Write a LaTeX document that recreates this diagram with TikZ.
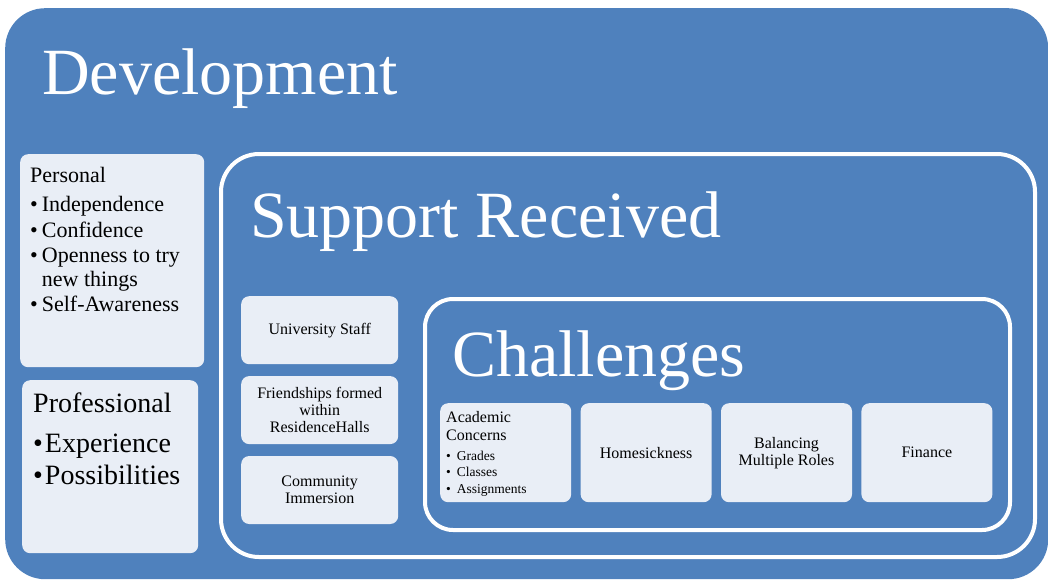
\documentclass[tikz,border=0pt]{standalone}
\usepackage{fontspec}
\setmainfont{Liberation Serif}
\usetikzlibrary{positioning}
\definecolor{devblue}{HTML}{4F81BD}
\definecolor{boxfill}{HTML}{E9EEF6}
\tikzset{
	panel/.style={fill=boxfill, rounded corners=8pt, inner sep=0pt, anchor=north west},
	frame/.style={draw=white, line width=4pt, rounded corners=#1, inner sep=0pt, anchor=north west},
	frame/.default=30pt,
	heading/.style={text=white, font=\fontsize{66}{70}\selectfont, anchor=base west, inner sep=0pt},
	listtext/.style={anchor=base west, inner sep=0pt, text=black},
	itemtext/.style={align=center, font=\fontsize{16}{17}\selectfont, text=black}
}

\begin{document}
\begin{tikzpicture}[x=1pt, y=-1pt]
	\useasboundingbox (0,0) rectangle (1048,581);
	% outer area and the two white frames
	\node[fill=devblue, rounded corners=40pt, inner sep=0pt, anchor=north west,
		minimum width=1043pt, minimum height=571pt] (development) at (5,8) {};
	\node[frame=38pt, minimum width=814pt, minimum height=403pt] (support) at (219,152) {};
	\node[frame=28pt, minimum width=585pt, minimum height=231pt] (challenges) at (423,297) {};
	\node[heading] (devtitle) at (42,94) {Development};
	\node[heading] (supporttitle) at (250,237) {Support Received};
	\node[heading] (challengetitle) at (452,376) {Challenges};

	% development: personal and professional
	\node[panel, minimum width=184pt, minimum height=213pt] (personal) at (20,154) {};
	\node[panel, minimum width=176pt, minimum height=173pt] (professional) at (22,380) {};
	\node[listtext, font=\fontsize{22}{25.5}\selectfont] (personaltxt) at (30,182)
		{\begin{tabular}[t]{@{}l@{\hspace{4pt}}l@{}}
			\multicolumn{2}{@{}l@{}}{Personal}\\[4pt]
			\textbullet & Independence\\
			\textbullet & Confidence\\
			\textbullet & Openness to try\\[-2pt]
			            & new things\\
			\textbullet & Self-Awareness
		\end{tabular}};
	\node[listtext, font=\fontsize{28}{32}\selectfont] (professionaltxt) at (33,412)
		{\begin{tabular}[t]{@{}l@{\hspace{2pt}}l@{}}
			\multicolumn{2}{@{}l@{}}{Professional}\\[8pt]
			\textbullet & Experience\\
			\textbullet & Possibilities
		\end{tabular}};

	% support received
	\node[panel, minimum width=157pt, minimum height=68pt] (staff) at (241,296) {};
	\node[panel, minimum width=157pt, minimum height=68pt, below=11.5pt of staff] (friends) {};
	\node[panel, minimum width=157pt, minimum height=68pt, below=11.5pt of friends] (community) {};
	\node[itemtext] (stafftxt) at (staff.center) {University Staff};
	\node[itemtext] (friendstxt) at (friends.center) {Friendships formed\\within\\ResidenceHalls};
	\node[itemtext] (communitytxt) at (community.center) {Community\\Immersion};

	% challenges
	\node[panel, minimum width=131pt, minimum height=99pt] (academic) at (440,403) {};
	\node[listtext, font=\fontsize{16}{18}\selectfont] (academictxt) at (446,422)
		{\begin{tabular}[t]{@{}l@{}}
			Academic\\
			Concerns\\[2pt]
			{\fontsize{13.5}{16.5}\selectfont\begin{tabular}[t]{@{}l@{\hspace{6pt}}l@{}}
				\textbullet & Grades\\
				\textbullet & Classes\\
				\textbullet & Assignments
			\end{tabular}}
		\end{tabular}};
	\foreach \prev/\name/\txt in {academic/home/Homesickness, home/roles/{Balancing\\Multiple Roles}, roles/finance/Finance}{
		\node[panel, minimum width=131pt, minimum height=99pt, right=9pt of \prev] (\name) {};
		\node[itemtext] (\name txt) at (\name.center) {\txt};
	}
\end{tikzpicture}
\end{document}
